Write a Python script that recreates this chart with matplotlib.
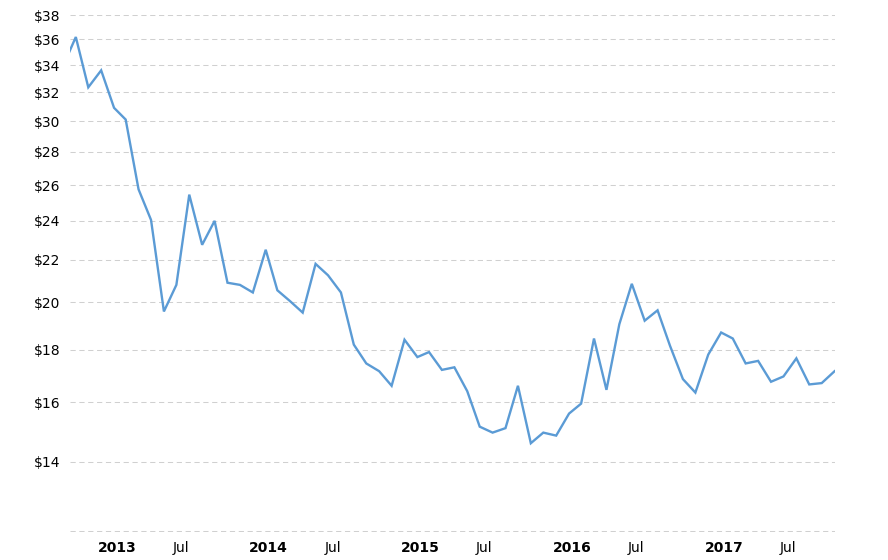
import numpy as np
import pandas as pd
import matplotlib
matplotlib.use("Agg")
import matplotlib.pyplot as plt
import matplotlib.dates as mdates
from matplotlib.ticker import FixedLocator, NullLocator

# monthly prices, Oct 2012 .. Nov 2017
start = "2012-10-01"
prices = [33.9, 36.2, 32.35, 33.6, 30.9, 30.1, 25.75, 24.05, 19.6, 20.8,
          25.45, 22.75, 24.0, 20.9, 20.8, 20.45, 22.5, 20.55, 20.05, 19.55,
          21.8, 21.25, 20.45, 18.2, 17.45, 17.15, 16.6, 18.4, 17.7, 17.9,
          17.2, 17.3, 16.4, 15.15, 14.95, 15.1, 16.6, 14.6, 14.95, 14.85,
          15.6, 15.95, 18.45, 16.45, 19.05, 20.85, 19.2, 19.65, 18.15, 16.85,
          16.35, 17.8, 18.7, 18.45, 17.45, 17.55, 16.75, 16.95, 17.65, 16.65,
          16.7, 17.15]
y_ticks = list(range(12, 40, 2))
years = [2013, 2014, 2015, 2016, 2017]

dates = pd.date_range(start, periods=len(prices), freq="MS") + pd.Timedelta(days=9)

fig = plt.figure(figsize=(8.88, 5.6), dpi=100)
ax = fig.add_axes([70 / 888, 1 - 531.5 / 560, 765 / 888, (531.5 - 15.3) / 560])

ax.plot(dates, prices, color="#5b9bd5", lw=1.7, solid_joinstyle="miter")

ax.set_yscale("log")
ax.set_ylim(11.985, 38)
ax.yaxis.set_major_locator(FixedLocator(y_ticks))
ax.yaxis.set_minor_locator(NullLocator())
ax.set_yticklabels(["" if v == 12 else f"${v}" for v in y_ticks], fontsize=10)
ax.grid(axis="y", color="#d0d0d0", lw=0.75, linestyle=(0, (5, 3.5)))

ax.set_xlim(pd.Timestamp("2012-10-27"), dates[-1] + pd.Timedelta(days=1))
xt, xl = [], []
for y in years:
    xt += [pd.Timestamp(f"{y}-01-01"), pd.Timestamp(f"{y}-07-01")]
    xl += [str(y), "Jul"]
ax.set_xticks(xt)
ax.set_xticklabels(xl, fontsize=10, ha="left")
for lab in ax.get_xticklabels():
    if lab.get_text() != "Jul":
        lab.set_fontweight("bold")

ax.tick_params(length=0)
ax.tick_params(axis="x", pad=7)
ax.tick_params(axis="y", pad=7)
for s in ax.spines.values():
    s.set_visible(False)

fig.savefig("out.png", dpi=100)
